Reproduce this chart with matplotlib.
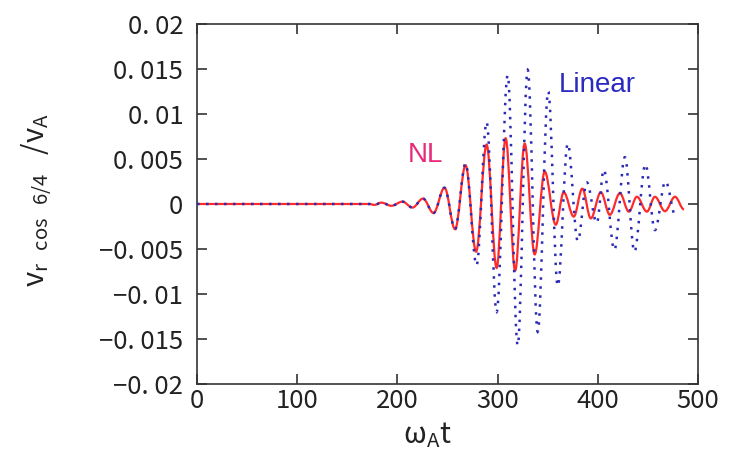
import matplotlib
matplotlib.use("Agg")
import matplotlib.pyplot as plt
from matplotlib.path import Path
from matplotlib.patches import PathPatch

# extrema: omega_A t and v_r / v_A
nl_t = [0, 172, 177, 184, 194, 205, 215, 225.5, 236, 247, 257.5, 268, 278.5,
        289, 299, 308, 317.5, 327, 337, 347, 358, 366, 376, 384.5, 393, 403,
        412, 422, 431, 439, 449, 457, 467, 477, 486]
nl_v = [0, 0, -0.0001, 0.00015, -0.0002, 0.00026, -0.0004, 0.0006, -0.001,
        0.0018, -0.0028, 0.0043, -0.0053, 0.0066, -0.0071, 0.0073, -0.0074,
        0.0067, -0.0056, 0.0036, -0.0023, 0.0013, -0.0014, 0.0017, -0.0016,
        0.0013, -0.0012, 0.0012, -0.00085, 0.0008, -0.00085, 0.0008, -0.0008,
        0.0008, -0.0006]

lin_t = [0, 172, 177, 184, 194, 205, 215, 225.5, 236, 247, 257.5, 268, 279,
         289, 299, 310, 320, 330, 340, 350.5, 360, 370, 380, 389, 399, 406,
         416.5, 427, 436.5, 447.5, 457, 467.5, 478]
lin_v = [0, 0, -0.0001, 0.00015, -0.0002, 0.00026, -0.0004, 0.0006, -0.001,
         0.0018, -0.0028, 0.0045, -0.0068, 0.0091, -0.0120, 0.0143, -0.0157,
         0.0149, -0.0142, 0.0125, -0.0091, 0.0067, -0.0041, 0.0024, -0.0021,
         0.0038, -0.0051, 0.0052, -0.0053, 0.0044, -0.0029, 0.0025, -0.0015]

xticks = [0, 100, 200, 300, 400, 500]
yticks = [-0.02, -0.015, -0.01, -0.005, 0, 0.005, 0.01, 0.015, 0.02]
ytick_labels = ["\u22120. 02", "\u22120. 015", "\u22120. 01", "\u22120. 005", "0",
                "0. 005", "0. 01", "0. 015", "0. 02"]


def wave(t, v, k=0.36):
    # smooth curve through the extrema, flat tangent at each one
    verts = [(t[0], v[0])]
    codes = [Path.MOVETO]
    for i in range(1, len(t)):
        d = t[i] - t[i - 1]
        verts += [(t[i - 1] + k * d, v[i - 1]), (t[i] - k * d, v[i]), (t[i], v[i])]
        codes += [Path.CURVE4] * 3
    return Path(verts, codes)


plt.rcParams['font.family'] = ['Noto Sans CJK JP', 'DejaVu Sans']
plt.rcParams['mathtext.fontset'] = 'dejavusans'

fig = plt.figure(figsize=(7.36, 4.74), dpi=100)
ax = fig.add_axes([0.2677, 0.1899, 0.6807, 0.7595])

ax.add_patch(PathPatch(wave(nl_t, nl_v), fill=False, edgecolor='#ff2a2a',
                       lw=1.6, zorder=2))
ax.add_patch(PathPatch(wave(lin_t, lin_v), fill=False, edgecolor='#2a2ab4',
                       lw=1.8, linestyle=(0, (1.0, 2.6)), zorder=3))

ax.text(228, 0.0054, 'NL', color='#e8287a', fontsize=20, ha='center', va='center',
        family='Liberation Sans')
ax.text(399, 0.0132, 'Linear', color='#2a2ac0', fontsize=20, ha='center', va='center',
        family='Liberation Sans')

ax.set_xlim(0, 500)
ax.set_ylim(-0.02, 0.02)
ax.set_xticks(xticks)
ax.set_xticklabels([str(x) for x in xticks])
ax.set_yticks(yticks)
ax.set_yticklabels(ytick_labels)
ax.tick_params(direction='in', length=7.5, width=1.2, top=True, right=True,
               labelsize=18.5, color='#333333', labelcolor='#222222')
ax.tick_params(axis='y', pad=10)
ax.tick_params(axis='x', pad=3)
for s in ax.spines.values():
    s.set_linewidth(1.2)
    s.set_color('#333333')

ax.set_xlabel(r'$\mathregular{\omega_A t}$', fontsize=21, color='#222222')
ax.xaxis.set_label_coords(0.46, -0.1)
ax.set_ylabel(r'$\mathregular{v_{r\ \ cos\ \ 6/4}\ \ /v_A}$', fontsize=21,
              color='#222222')
ax.yaxis.set_label_coords(-0.285, 0.51)

fig.savefig('out.png', dpi=100)
